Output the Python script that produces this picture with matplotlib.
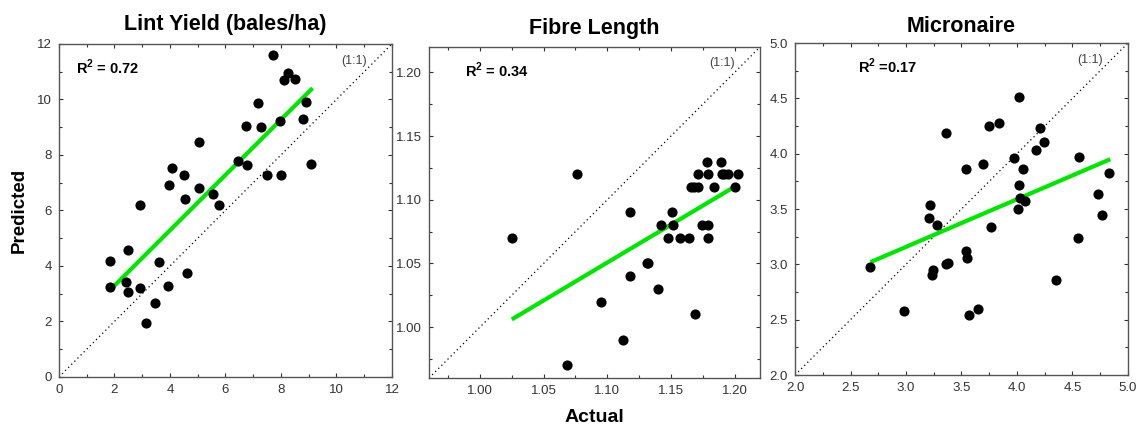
import matplotlib
matplotlib.use('Agg')
import matplotlib.pyplot as plt
from matplotlib.ticker import MultipleLocator, FormatStrFormatter

plt.rcParams['font.family'] = ['Liberation Sans', 'DejaVu Sans']
plt.rcParams['mathtext.fontset'] = 'custom'
plt.rcParams['mathtext.rm'] = 'Liberation Sans:bold'
plt.rcParams['mathtext.bf'] = 'Liberation Sans:bold'

# Lint yield (bales/ha)
yield_actual = [7.72, 8.27, 8.10, 8.51, 8.91, 7.18, 7.97, 8.78, 6.75, 7.27,
                5.04, 6.46, 6.79, 9.10, 4.09, 4.51, 7.49, 8.02, 3.98, 5.05,
                5.55, 4.53, 5.76, 2.92, 1.83, 2.50, 3.62, 4.62, 2.43, 1.84,
                2.50, 2.91, 3.94, 3.46, 3.13]
yield_pred = [11.59, 10.94, 10.70, 10.75, 9.91, 9.88, 9.24, 9.28, 9.06, 9.02,
              8.47, 7.78, 7.63, 7.67, 7.52, 7.28, 7.27, 7.29, 6.91, 6.82,
              6.58, 6.42, 6.19, 6.19, 4.19, 4.56, 4.15, 3.74, 3.43, 3.25,
              3.07, 3.19, 3.27, 2.67, 1.94]
yield_fit_x = [1.98, 9.14]
yield_fit_y = [3.27, 10.41]

# Fibre length
fibre_actual = [1.025, 1.076, 1.068, 1.095, 1.112, 1.118, 1.118, 1.131, 1.132, 1.140,
                1.142, 1.148, 1.151, 1.152, 1.157, 1.164, 1.169, 1.166, 1.168, 1.171,
                1.171, 1.178, 1.179, 1.174, 1.179, 1.179, 1.184, 1.189, 1.190, 1.192,
                1.195, 1.203, 1.200]
fibre_pred = [1.07, 1.12, 0.97, 1.02, 0.99, 1.09, 1.04, 1.05, 1.05, 1.03,
              1.08, 1.07, 1.09, 1.08, 1.07, 1.07, 1.01, 1.11, 1.11, 1.11,
              1.12, 1.13, 1.12, 1.08, 1.08, 1.07, 1.11, 1.13, 1.12, 1.12,
              1.12, 1.12, 1.11]
fibre_fit_x = [1.025, 1.203]
fibre_fit_y = [1.006, 1.112]

# Micronaire
mic_actual = [4.02, 3.84, 3.745, 3.36, 4.21, 4.24, 4.17, 3.97, 4.56, 3.69,
              3.54, 4.05, 4.83, 4.02, 4.73, 4.03, 4.07, 4.01, 4.77, 3.22,
              3.21, 3.28, 3.77, 4.55, 3.54, 3.55, 2.68, 3.36, 3.38, 3.24,
              3.23, 4.35, 2.98, 3.65, 3.57]
mic_pred = [4.51, 4.28, 4.25, 4.19, 4.23, 4.11, 4.03, 3.96, 3.97, 3.91,
            3.86, 3.86, 3.83, 3.72, 3.64, 3.60, 3.57, 3.50, 3.45, 3.54,
            3.42, 3.36, 3.34, 3.24, 3.12, 3.06, 2.98, 3.00, 3.01, 2.95,
            2.90, 2.86, 2.58, 2.60, 2.54]
mic_fit_x = [2.68, 4.84]
mic_fit_y = [3.02, 3.95]

panels = [
    dict(title='Lint Yield (bales/ha)', x=yield_actual, y=yield_pred,
         fx=yield_fit_x, fy=yield_fit_y, r2='R$^{2}$ = 0.72', lim=(0, 12),
         major=2, minor=1, fmt='%d', pos=[0.0518, 0.1233, 0.2926, 0.7744],
         r2x=0.05, titlepad=10),
    dict(title='Fibre Length', x=fibre_actual, y=fibre_pred,
         fx=fibre_fit_x, fy=fibre_fit_y, r2='R$^{2}$ = 0.34', lim=(0.96, 1.22),
         major=0.05, minor=0.025, fmt='%.2f', pos=[0.377, 0.1209, 0.2909, 0.770],
         r2x=0.11, titlepad=9.5),
    dict(title='Micronaire', x=mic_actual, y=mic_pred,
         fx=mic_fit_x, fy=mic_fit_y, r2='R$^{2}$ =0.17', lim=(2.0, 5.0),
         major=0.5, minor=0.25, fmt='%.1f', pos=[0.6986, 0.1279, 0.2926, 0.772],
         r2x=0.19, titlepad=8),
]

fig = plt.figure(figsize=(11.38, 4.30), dpi=100)

for p in panels:
    ax = fig.add_axes(p['pos'])
    lo, hi = p['lim']
    ax.plot([lo, hi], [lo, hi], color='black', linestyle=(0, (1, 2.5)), linewidth=0.9)
    ax.plot(p['fx'], p['fy'], color='#00e600', linewidth=3, solid_capstyle='butt', zorder=3)
    ax.plot(p['x'], p['y'], 'o', color='black', markersize=6.3, zorder=4)
    ax.set_xlim(lo, hi)
    ax.set_ylim(lo, hi)
    for axis in (ax.xaxis, ax.yaxis):
        axis.set_major_locator(MultipleLocator(p['major']))
        axis.set_minor_locator(MultipleLocator(p['minor']))
        axis.set_major_formatter(FormatStrFormatter(p['fmt']))
    ax.tick_params(which='both', direction='in', top=True, right=True,
                   color='#333333', labelsize=9.5, labelcolor='#333333')
    ax.tick_params(which='major', length=3, width=0.8, pad=5)
    ax.tick_params(which='minor', length=2, width=0.8)
    for s in ax.spines.values():
        s.set_color('#555555')
        s.set_linewidth(1.0)
    ax.set_title(p['title'], fontsize=15.5, fontweight='bold', pad=p['titlepad'])
    ax.text(p['r2x'], 0.93, p['r2'], transform=ax.transAxes,
            fontsize=10.5, fontweight='bold', ha='left', va='center')
    ax.text(0.925, 0.95, '(1:1)', transform=ax.transAxes, fontsize=9,
            color='#444444', ha='right', va='center')
    if p['title'].startswith('Lint'):
        ax.set_ylabel('Predicted', fontsize=13.5, fontweight='bold', labelpad=7)
    if p['title'].startswith('Fibre'):
        ax.set_xlabel('Actual', fontsize=14, fontweight='bold', labelpad=9)

fig.savefig('out.png', dpi=100)
